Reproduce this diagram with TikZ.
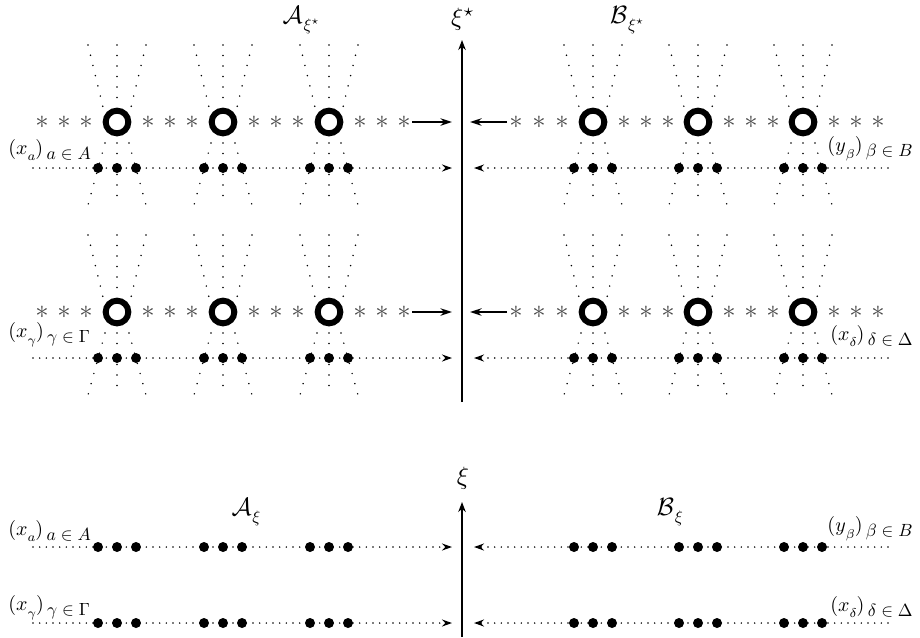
\documentclass[tikz,border=0pt]{standalone}
\usepackage{graphicx}
\usetikzlibrary{arrows.meta}
\newcommand{\seqlabel}[3]{\scalebox{1.2}{$(#1$}\raisebox{-4pt}{\scalebox{1.1}{$\scriptstyle #2$}}\scalebox{1.2}{$)$}\raisebox{-3pt}{\hspace{2pt}\scalebox{1.06}{$#3$}}}
\newcommand{\headlabel}[2]{\scalebox{1.5}{$#1$}\raisebox{-4.5pt}{\hspace{0.5pt}$#2$}}
\newcommand{\starglyph}{\scalebox{1.6}{$\ast$}}
\begin{document}
\begin{tikzpicture}[x=0.6pt,y=-0.6pt,
  ring/.style={circle,draw,line width=3.6pt,minimum size=13.6pt,inner sep=0pt},
  bead/.style={circle,fill,minimum size=6pt,inner sep=0pt},
  starnode/.style={inner sep=0pt,text=black!72},
  vdots/.style={line width=1pt,line cap=round,dash pattern=on 0pt off 6.3pt},
  hdots/.style={line width=1pt,line cap=round,dash pattern=on 0pt off 4pt},
  dotarrow/.style={hdots,-{Stealth[length=6pt,width=4.2pt]}},
  harrow/.style={line width=1pt,-{Stealth[length=7pt,width=4.5pt]}},
  axisarrow/.style={line width=1.3pt,-{Stealth[length=6pt,width=4.5pt]}},
  lab/.style={inner sep=0pt},
  head/.style={inner sep=0pt}]
\useasboundingbox (0,0) rectangle (920,637);

% ---------- upper axis ----------
\coordinate (axb) at (462,402);
\coordinate (axt) at (462,40);
\draw[axisarrow] (axb) -- (axt);
\node[head] (xistar) at (463,19) {\scalebox{1.5}{$\xi^{\star}$}};
\node[head] (Astar) at (301,20) {\headlabel{\mathcal{A}}{\xi^{\star}}};
\node[head] (Bstar) at (627,20) {\headlabel{\mathcal{B}}{\xi^{\star}}};

% ---------- upper rows ----------
\foreach \r/\cy in {1/122,2/312} {
  % left side
  \foreach \c [count=\i] in {117,223,329} {
    \draw[vdots] (\c-29,\cy-77) -- (\c-14,\cy-15);
    \draw[vdots] (\c,\cy-77) -- (\c,\cy-20);
    \draw[vdots] (\c+29,\cy-77) -- (\c+14,\cy-15);
    \draw[vdots] (\c-12,\cy+21) -- (\c-29,\cy+83);
    \draw[vdots] (\c,\cy+21) -- (\c,\cy+83);
    \draw[vdots] (\c+12,\cy+21) -- (\c+29,\cy+83);
  }
  \coordinate (hsL\r) at (33,\cy+46);
  \coordinate (heL\r) at (452,\cy+46);
  \draw[dotarrow] (hsL\r) -- (heL\r);
  \foreach \c [count=\i] in {117,223,329} {
    \node[ring] (ringL\r-\i) at (\c,\cy) {};
    \node[bead] (bL\r-\i-a) at (\c-19,\cy+46) {};
    \node[bead] (bL\r-\i-b) at (\c,\cy+46) {};
    \node[bead] (bL\r-\i-c) at (\c+19,\cy+46) {};
    \node[starnode] (sL\r-\i-a) at (\c+31,\cy) {\starglyph};
    \node[starnode] (sL\r-\i-b) at (\c+53,\cy) {\starglyph};
    \node[starnode] (sL\r-\i-c) at (\c+75,\cy) {\starglyph};
  }
  \node[starnode] (sL\r-0-a) at (42,\cy) {\starglyph};
  \node[starnode] (sL\r-0-b) at (64,\cy) {\starglyph};
  \node[starnode] (sL\r-0-c) at (86,\cy) {\starglyph};
  \coordinate (aL\r) at (452,\cy);
  \coordinate (aLs\r) at (412,\cy);
  \draw[harrow] (aLs\r) -- (aL\r);

  % right side
  \foreach \c [count=\i] in {593,698,803} {
    \draw[vdots] (\c-29,\cy-77) -- (\c-14,\cy-15);
    \draw[vdots] (\c,\cy-77) -- (\c,\cy-20);
    \draw[vdots] (\c+29,\cy-77) -- (\c+14,\cy-15);
    \draw[vdots] (\c-12,\cy+21) -- (\c-29,\cy+83);
    \draw[vdots] (\c,\cy+21) -- (\c,\cy+83);
    \draw[vdots] (\c+12,\cy+21) -- (\c+29,\cy+83);
  }
  \coordinate (hsR\r) at (888,\cy+46);
  \coordinate (heR\r) at (474,\cy+46);
  \draw[dotarrow] (hsR\r) -- (heR\r);
  \foreach \c [count=\i] in {593,698,803} {
    \node[ring] (ringR\r-\i) at (\c,\cy) {};
    \node[bead] (bR\r-\i-a) at (\c-19,\cy+46) {};
    \node[bead] (bR\r-\i-b) at (\c,\cy+46) {};
    \node[bead] (bR\r-\i-c) at (\c+19,\cy+46) {};
    \node[starnode] (sR\r-\i-a) at (\c+31,\cy) {\starglyph};
    \node[starnode] (sR\r-\i-b) at (\c+53,\cy) {\starglyph};
    \node[starnode] (sR\r-\i-c) at (\c+75,\cy) {\starglyph};
  }
  \node[starnode] (sR\r-0-a) at (516,\cy) {\starglyph};
  \node[starnode] (sR\r-0-b) at (539,\cy) {\starglyph};
  \node[starnode] (sR\r-0-c) at (562,\cy) {\starglyph};
  \coordinate (aR\r) at (470,\cy);
  \coordinate (aRs\r) at (507,\cy);
  \draw[harrow] (aRs\r) -- (aR\r);
}

\node[lab,anchor=west] (lxa1) at (8,150) {\seqlabel{x}{a}{a\in A}};
\node[lab,anchor=east] (lyb1) at (913,149) {\seqlabel{y}{\beta}{\beta\in B}};
\node[lab,anchor=west] (lxg1) at (8,335) {\seqlabel{x}{\gamma}{\gamma\in\Gamma}};
\node[lab,anchor=east] (lxd1) at (913,336) {\seqlabel{x}{\delta}{\delta\in\Delta}};

% ---------- lower part ----------
\coordinate (bxb) at (462,637);
\coordinate (bxt) at (462,502);
\draw[axisarrow] (bxb) -- (bxt);
\node[head] (xi) at (463,478) {\scalebox{1.5}{$\xi$}};
\node[head] (Axi) at (246,512) {\headlabel{\mathcal{A}}{\xi}};
\node[head] (Bxi) at (670,512) {\headlabel{\mathcal{B}}{\xi}};

\foreach \r/\yy in {3/547,4/623} {
  \coordinate (hsL\r) at (33,\yy);
  \coordinate (heL\r) at (452,\yy);
  \draw[dotarrow] (hsL\r) -- (heL\r);
  \coordinate (hsR\r) at (888,\yy);
  \coordinate (heR\r) at (474,\yy);
  \draw[dotarrow] (hsR\r) -- (heR\r);
  \foreach \c [count=\i] in {117,223,329} {
    \node[bead] (bL\r-\i-a) at (\c-19,\yy) {};
    \node[bead] (bL\r-\i-b) at (\c,\yy) {};
    \node[bead] (bL\r-\i-c) at (\c+19,\yy) {};
  }
  \foreach \c [count=\i] in {593,698,803} {
    \node[bead] (bR\r-\i-a) at (\c-19,\yy) {};
    \node[bead] (bR\r-\i-b) at (\c,\yy) {};
    \node[bead] (bR\r-\i-c) at (\c+19,\yy) {};
  }
}
\node[lab,anchor=west] (lxa2) at (8,531) {\seqlabel{x}{a}{a\in A}};
\node[lab,anchor=east] (lyb2) at (913,529) {\seqlabel{y}{\beta}{\beta\in B}};
\node[lab,anchor=west] (lxg2) at (8,608) {\seqlabel{x}{\gamma}{\gamma\in\Gamma}};
\node[lab,anchor=east] (lxd2) at (913,607) {\seqlabel{x}{\delta}{\delta\in\Delta}};
\end{tikzpicture}
\end{document}
